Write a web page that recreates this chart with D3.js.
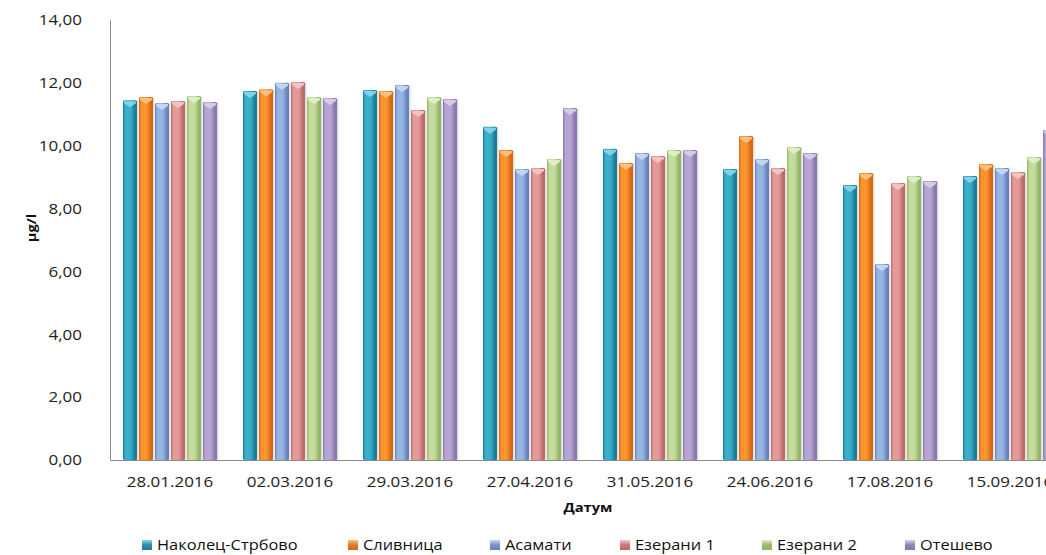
<!DOCTYPE html>
<html>
<head>
<meta charset="utf-8">
<script src="https://cdn.jsdelivr.net/npm/d3@7"></script>
<style>
  html, body { margin: 0; padding: 0; background: #ffffff; }
  svg { display: block; font-family: "Open Sans", "DejaVu Sans", sans-serif; }
</style>
</head>
<body>
<svg id="chart" width="1046" height="555"></svg>
<script>
// Sampling dates
const dates = ["28.01.2016", "02.03.2016", "29.03.2016", "27.04.2016",
               "31.05.2016", "24.06.2016", "17.08.2016", "15.09.2016"];

// Stations
const stations = ["Наколец-Стрбово", "Сливница", "Асамати", "Езерани 1", "Езерани 2", "Отешево"];

// Concentration per station (µg/l), one value per date
const nakolec  = [11.45, 11.74, 11.77, 10.60, 9.90, 9.26, 8.75, 9.04];
const slivnica = [11.55, 11.80, 11.74, 9.86, 9.45, 10.31, 9.13, 9.42];
const asamati  = [11.36, 12.00, 11.93, 9.26, 9.77, 9.58, 6.24, 9.29];
const ezerani1 = [11.42, 12.03, 11.14, 9.29, 9.67, 9.29, 8.81, 9.16];
const ezerani2 = [11.58, 11.55, 11.55, 9.58, 9.86, 9.96, 9.04, 9.64];
const oteshevo = [11.39, 11.52, 11.49, 11.20, 9.86, 9.77, 8.88, 10.50];

const seriesValues = [nakolec, slivnica, asamati, ezerani1, ezerani2, oteshevo];

// Value axis ticks
const yTicks = [0, 2, 4, 6, 8, 10, 12, 14];

const xTitle = "Датум";
const yTitle = "µg/l";

// Bar colours: [edge, centre, cap, legend swatch]
const palette = [
  ["#1c7d97", "#3aaecb", "#8ad6ea", "#2f8da8"],
  ["#d9680f", "#f9942f", "#fcc489", "#e07a2a"],
  ["#6685bd", "#96b3e2", "#c8d8f2", "#7b95c2"],
  ["#bf6a6a", "#e39a99", "#f3c9c8", "#c67676"],
  ["#93b566", "#c4dc9e", "#e2efcc", "#9bb86a"],
  ["#8a78ad", "#b4a5d3", "#d9d0ec", "#9283b1"]
];

// Text is drawn slightly wide
const stretch = 1.13;

const svg = d3.select("#chart");
const plot = { left: 110, right: 1070, top: 20, bottom: 460 };

const x = d3.scaleBand()
  .domain(dates)
  .range([plot.left, plot.right])
  .paddingInner(0.2)
  .paddingOuter(0.1);

const xInner = d3.scaleBand()
  .domain(d3.range(stations.length))
  .range([0, x.bandwidth()])
  .paddingInner(0.125)
  .paddingOuter(0.0625);

const y = d3.scaleLinear()
  .domain([0, 14])
  .range([plot.bottom, plot.top]);

const locale = d3.formatLocale({ decimal: ",", thousands: " ", grouping: [3], currency: ["", ""] });
const fmt = locale.format(".2f");

// Gradients giving each bar its rounded, bevelled look
const defs = svg.append("defs");
palette.forEach((c, i) => {
  const g = defs.append("linearGradient")
    .attr("id", "bar" + i)
    .attr("x1", "0").attr("x2", "1").attr("y1", "0").attr("y2", "0");
  g.append("stop").attr("offset", "0%").attr("stop-color", c[0]);
  g.append("stop").attr("offset", "18%").attr("stop-color", c[1]);
  g.append("stop").attr("offset", "55%").attr("stop-color", c[1]);
  g.append("stop").attr("offset", "85%").attr("stop-color", c[0]);
  g.append("stop").attr("offset", "100%").attr("stop-color", c[0]);

  const s = defs.append("linearGradient")
    .attr("id", "sw" + i)
    .attr("x1", "0").attr("x2", "0").attr("y1", "0").attr("y2", "1");
  s.append("stop").attr("offset", "0%").attr("stop-color", c[2]);
  s.append("stop").attr("offset", "50%").attr("stop-color", c[3]);
  s.append("stop").attr("offset", "100%").attr("stop-color", c[0]);
});

// Value axis
const yAxis = svg.append("g")
  .attr("transform", `translate(${plot.left},0)`)
  .call(d3.axisLeft(y).tickValues(yTicks).tickFormat(fmt).tickSize(0).tickPadding(28 / stretch));
yAxis.select(".domain").attr("stroke", "#8a8a8a").attr("stroke-width", 1);
yAxis.selectAll("text")
  .attr("fill", "#222")
  .attr("transform", `scale(${stretch},1)`)
  .style("font-size", "15px")
  .style("font-family", "'Open Sans', sans-serif");

// Category axis
const xAxis = svg.append("g")
  .attr("transform", `translate(0,${plot.bottom})`)
  .call(d3.axisBottom(x).tickSize(0).tickPadding(16));
xAxis.select(".domain").attr("stroke", "#8a8a8a").attr("stroke-width", 1);
xAxis.selectAll("text")
  .attr("fill", "#222")
  .attr("transform", `scale(${stretch},1)`)
  .style("font-size", "15px")
  .style("font-family", "'Open Sans', sans-serif");

// Bars
const groups = svg.append("g").selectAll("g")
  .data(dates)
  .join("g")
  .attr("transform", d => `translate(${x(d)},0)`);

groups.each(function (date, di) {
  const g = d3.select(this);
  seriesValues.forEach((vals, si) => {
    const v = vals[di];
    const bx = xInner(si);
    const bw = xInner.bandwidth();
    const top = y(v);
    const h = y(0) - top;
    // soft shadow
    g.append("rect")
      .attr("x", bx + 0.5).attr("y", top + 0.5)
      .attr("width", bw + 1).attr("height", h - 0.5)
      .attr("fill", "#9a9a9a").attr("opacity", 0.35);
    g.append("rect")
      .attr("x", bx).attr("y", top)
      .attr("width", bw).attr("height", h)
      .attr("rx", 1.5)
      .attr("fill", `url(#bar${si})`);
    // cap with downward chevron
    g.append("path")
      .attr("d", `M${bx + 1},${top + 1} L${bx + bw - 1},${top + 1} L${bx + bw - 1},${top + 3} L${bx + bw / 2},${top + 7} L${bx + 1},${top + 3} Z`)
      .attr("fill", palette[si][2])
      .attr("opacity", 0.9);
  });
});

// Axis titles
svg.append("g")
  .attr("transform", `translate(588,512) scale(${stretch},1)`)
  .append("text")
  .attr("text-anchor", "middle")
  .style("font-size", "13px").style("font-weight", "bold")
  .attr("fill", "#111")
  .text(xTitle);

svg.append("g")
  .attr("transform", `translate(36,228) rotate(-90) scale(${stretch},1)`)
  .append("text")
  .attr("text-anchor", "middle")
  .style("font-size", "13px").style("font-weight", "bold")
  .attr("fill", "#111")
  .text(yTitle);

// Legend
const legendX = [142, 348, 490, 620, 762, 905];
const legend = svg.append("g").selectAll("g")
  .data(stations)
  .join("g")
  .attr("transform", (d, i) => `translate(${legendX[i]},545)`);
legend.append("rect")
  .attr("x", 0).attr("y", -5)
  .attr("width", 10).attr("height", 10)
  .attr("fill", (d, i) => `url(#sw${i})`);
legend.append("g")
  .attr("transform", `translate(15,5) scale(${stretch},1)`)
  .append("text")
  .style("font-size", "14.5px")
  .attr("fill", "#111")
  .text(d => d);
</script>
</body>
</html>
